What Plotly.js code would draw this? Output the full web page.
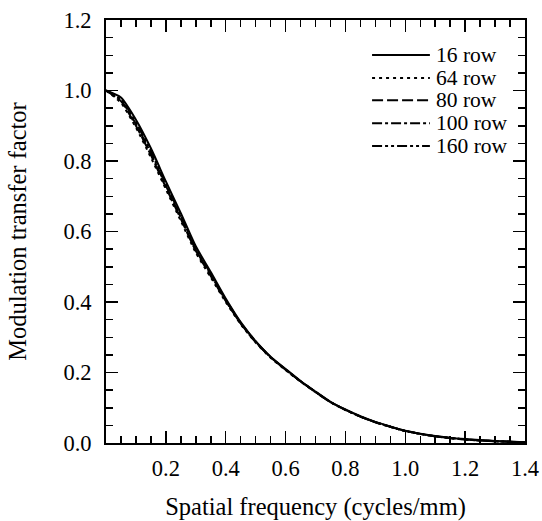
<!DOCTYPE html>
<html>
<head>
<meta charset="utf-8">
<script src="https://cdn.plot.ly/plotly-3.0.1.min.js"></script>
<style>html,body{margin:0;padding:0;background:#fff;}#chart{width:542px;height:521px;}</style>
</head>
<body>
<div id="chart"></div>
<script>
const freq = [0, 0.05, 0.1, 0.15, 0.2, 0.25, 0.3, 0.35, 0.4, 0.45, 0.5, 0.55, 0.6, 0.65, 0.7, 0.75, 0.8, 0.85, 0.9, 0.95, 1.0, 1.1, 1.2, 1.3, 1.4];
const mtf16  = [1.0, 0.980, 0.917, 0.836, 0.742, 0.652, 0.558, 0.485, 0.410, 0.343, 0.289, 0.245, 0.210, 0.176, 0.146, 0.117, 0.095, 0.076, 0.060, 0.047, 0.035, 0.020, 0.011, 0.006, 0.002];
const mtf64  = [1.0, 0.965, 0.895, 0.810, 0.720, 0.630, 0.540, 0.470, 0.400, 0.337, 0.285, 0.242, 0.207, 0.174, 0.144, 0.116, 0.094, 0.075, 0.059, 0.046, 0.034, 0.019, 0.010, 0.005, 0.002];
const mtf80  = [1.0, 0.970, 0.900, 0.817, 0.725, 0.636, 0.545, 0.474, 0.403, 0.339, 0.286, 0.243, 0.208, 0.175, 0.145, 0.116, 0.094, 0.075, 0.059, 0.046, 0.034, 0.019, 0.010, 0.005, 0.002];
const mtf100 = [1.0, 0.972, 0.905, 0.822, 0.730, 0.640, 0.548, 0.477, 0.405, 0.340, 0.287, 0.243, 0.208, 0.175, 0.145, 0.116, 0.094, 0.075, 0.059, 0.046, 0.034, 0.019, 0.010, 0.005, 0.002];
const mtf160 = [1.0, 0.975, 0.910, 0.828, 0.735, 0.645, 0.552, 0.480, 0.407, 0.341, 0.288, 0.244, 0.209, 0.175, 0.145, 0.116, 0.094, 0.075, 0.059, 0.046, 0.034, 0.019, 0.010, 0.005, 0.002];
const seriesNames = ["16 row", "64 row", "80 row", "100 row", "160 row"];
const xTickVals = [0.2, 0.4, 0.6, 0.8, 1.0, 1.2, 1.4];
const xTickText = ["0.2", "0.4", "0.6", "0.8", "1.0", "1.2", "1.4"];
const yTickVals = [0, 0.2, 0.4, 0.6, 0.8, 1.0, 1.2];
const yTickText = ["0.0", "0.2", "0.4", "0.6", "0.8", "1.0", "1.2"];

const seriesValues = [mtf16, mtf64, mtf80, mtf100, mtf160];
const dashes = ["solid", "3px,4px", "11px,4px", "10px,3px,3px,3px", "10px,3px,3px,3px,3px,3px"];
const FONT = "Liberation Serif, Times New Roman, serif";

const traces = seriesValues.map((v, i) => ({
  x: freq, y: v, type: "scatter", mode: "lines", name: seriesNames[i],
  line: {color: "#000", width: 2, dash: dashes[i], shape: "spline", smoothing: 0.6},
  showlegend: false, hoverinfo: "skip"
}));

// custom legend (long line samples like the reference)
const legY = [0.917, 0.863, 0.810, 0.756, 0.702];
const shapes = [], annotations = [];
seriesNames.forEach((n, i) => {
  shapes.push({type: "line", xref: "paper", yref: "paper", x0: 0.635, x1: 0.773, y0: legY[i], y1: legY[i],
    line: {color: "#000", width: 2, dash: dashes[i]}});
  annotations.push({xref: "paper", yref: "paper", x: 0.785, y: legY[i], xanchor: "left", yanchor: "middle",
    text: n, showarrow: false, borderpad: 0, font: {family: FONT, size: 21.5, color: "#000"}});
});

const axisCommon = {
  showline: true, linecolor: "#000", linewidth: 2, mirror: "ticks",
  ticks: "inside", ticklen: 12, tickwidth: 1.5, tickcolor: "#000",
  showgrid: false, zeroline: false, fixedrange: true,
  tickfont: {family: FONT, size: 22.5, color: "#000"},
};

const layout = {
  width: 542, height: 521,
  margin: {l: 106, r: 17, t: 20, b: 78},
  paper_bgcolor: "#fff", plot_bgcolor: "#fff",
  font: {family: FONT, color: "#000"},
  xaxis: Object.assign({}, axisCommon, {
    range: [0, 1.4], tickmode: "array", tickvals: xTickVals, ticktext: xTickText,
    minor: {ticks: "inside", ticklen: 7, tickwidth: 1.5, tickcolor: "#000", dtick: 0.05, tick0: 0, showgrid: false},
    title: {text: "Spatial frequency (cycles/mm)", font: {family: FONT, size: 24.5, color: "#000"}, standoff: 18},
    automargin: false, ticklabelstandoff: 4
  }),
  yaxis: Object.assign({}, axisCommon, {
    range: [0, 1.2], tickmode: "array", tickvals: yTickVals, ticktext: yTickText,
    minor: {ticks: "inside", ticklen: 7, tickwidth: 1.5, tickcolor: "#000", dtick: 0.05, tick0: 0, showgrid: false},
    title: {text: "Modulation transfer factor", font: {family: FONT, size: 24.5, color: "#000"}, standoff: 30},
    automargin: false, ticklabelstandoff: 8
  }),
  shapes: shapes, annotations: annotations
};

Plotly.newPlot("chart", traces, layout, {displayModeBar: false, staticPlot: true});
</script>
</body>
</html>
